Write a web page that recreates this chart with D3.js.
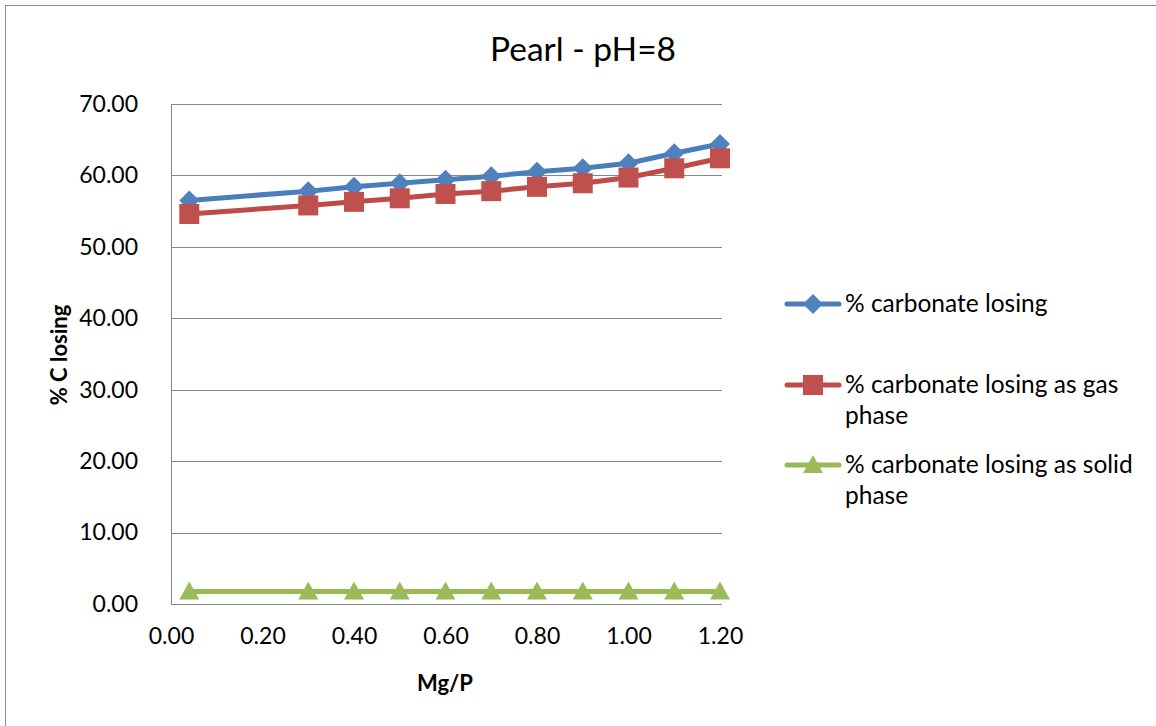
<!DOCTYPE html>
<html>
<head>
<meta charset="utf-8">
<script src="https://cdn.jsdelivr.net/npm/d3@7"></script>
<style>
  html, body { margin: 0; padding: 0; background: #fff; }
  svg { display: block; font-family: Lato, "Open Sans", sans-serif; }
</style>
</head>
<body>
<svg id="chart" width="1156" height="726"></svg>
<script>
// Mg/P ratios
const mgP = [0.04, 0.3, 0.4, 0.5, 0.6, 0.7, 0.8, 0.9, 1.0, 1.1, 1.2];
// % carbonate losing (total)
const totalLoss = [56.5, 57.8, 58.4, 58.9, 59.4, 59.9, 60.5, 61.0, 61.7, 63.1, 64.4];
// % carbonate losing as gas phase
const gasLoss = [54.6, 55.8, 56.3, 56.8, 57.4, 57.8, 58.4, 58.9, 59.7, 61.0, 62.4];
// % carbonate losing as solid phase
const solidLoss = [1.75, 1.75, 1.75, 1.75, 1.75, 1.75, 1.75, 1.75, 1.75, 1.75, 1.75];

const xTicks = [0, 0.2, 0.4, 0.6, 0.8, 1.0, 1.2];
const yTicks = [0, 10, 20, 30, 40, 50, 60, 70];

const seriesNames = [
  ["% carbonate losing"],
  ["% carbonate losing as gas", "phase"],
  ["% carbonate losing as solid", "phase"]
];

const svg = d3.select("#chart");

// outer chart frame
svg.append("rect")
  .attr("x", 5.5).attr("y", 5.5)
  .attr("width", 1200).attr("height", 800)
  .attr("fill", "none").attr("stroke", "#8c8c8c").attr("stroke-width", 1);

const x = d3.scaleLinear().domain([0, 1.2]).range([171, 720]);
const y = d3.scaleLinear().domain([0, 70]).range([604, 104]);

// horizontal gridlines
svg.append("g")
  .selectAll("line")
  .data(yTicks)
  .join("line")
  .attr("x1", x(0)).attr("x2", x(1.2) + 2)
  .attr("y1", d => Math.round(y(d)) + 0.5).attr("y2", d => Math.round(y(d)) + 0.5)
  .attr("stroke", "#868686").attr("stroke-width", 1);

// y axis
const yAxis = svg.append("g")
  .attr("transform", `translate(${x(0)},0)`)
  .call(d3.axisLeft(y).tickValues(yTicks).tickFormat(d3.format(".2f")).tickSize(0).tickPadding(33));
yAxis.select(".domain").attr("stroke", "#868686");
yAxis.selectAll("text").attr("font-size", 23).attr("fill", "#000").attr("font-family", "Lato");

// x axis
const xAxis = svg.append("g")
  .attr("transform", `translate(0,${y(0)})`)
  .call(d3.axisBottom(x).tickValues(xTicks).tickFormat(d3.format(".2f")).tickSize(0).tickPadding(24));
xAxis.select(".domain").attr("stroke", "#868686");
xAxis.selectAll("text").attr("font-size", 23).attr("fill", "#000").attr("font-family", "Lato");

// series styles
const series = [
  { values: totalLoss, line: "#4A7EBB", fill: "#4F81BD", shape: "diamond" },
  { values: gasLoss, line: "#BE4B48", fill: "#C0504D", shape: "square" },
  { values: solidLoss, line: "#98B954", fill: "#9BBB59", shape: "triangle" }
];

function markerPath(shape) {
  if (shape === "diamond") return "M0,-10L10,0L0,10L-10,0Z";
  if (shape === "square") return "M-10,-10H10V10H-10Z";
  return "M0,-10L10,8L-10,8Z";
}

const lineGen = d3.line().x(d => x(d[0])).y(d => y(d[1]));

series.forEach(s => {
  const pts = mgP.map((m, i) => [m, s.values[i]]);
  svg.append("path")
    .datum(pts)
    .attr("d", lineGen)
    .attr("fill", "none")
    .attr("stroke", s.line)
    .attr("stroke-width", 5)
    .attr("stroke-linejoin", "round")
    .attr("stroke-linecap", "round");
  svg.append("g")
    .selectAll("path")
    .data(pts)
    .join("path")
    .attr("transform", d => `translate(${x(d[0])},${y(d[1])})`)
    .attr("d", markerPath(s.shape))
    .attr("fill", s.fill);
});

// title
svg.append("text")
  .attr("x", 583).attr("y", 61)
  .attr("text-anchor", "middle")
  .attr("font-size", 33.5)
  .attr("fill", "#000")
  .text("Pearl - pH=8");

// axis titles
svg.append("text")
  .attr("x", 445).attr("y", 691)
  .attr("text-anchor", "middle")
  .attr("font-size", 22).attr("font-weight", "bold")
  .attr("fill", "#000")
  .text("Mg/P");

svg.append("text")
  .attr("transform", "translate(67,355) rotate(-90)")
  .attr("text-anchor", "middle")
  .attr("font-size", 22).attr("font-weight", "bold")
  .attr("fill", "#000")
  .text("% C losing");

// legend
const legendY = [304, 385, 465];
const legend = svg.append("g");
series.forEach((s, i) => {
  const g = legend.append("g").attr("transform", `translate(0,${legendY[i]})`);
  g.append("line")
    .attr("x1", 787).attr("x2", 839)
    .attr("stroke", s.line).attr("stroke-width", 5).attr("stroke-linecap", "round");
  g.append("path")
    .attr("transform", "translate(813,0)")
    .attr("d", markerPath(s.shape))
    .attr("fill", s.fill);
  seriesNames[i].forEach((t, j) => {
    g.append("text")
      .attr("x", 845).attr("y", j * 31 + 8)
      .attr("font-size", 24.5)
      .attr("fill", "#000")
      .text(t);
  });
});
</script>
</body>
</html>
